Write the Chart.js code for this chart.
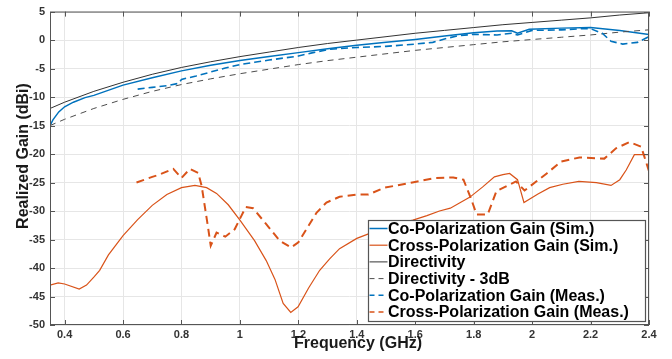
<!DOCTYPE html>
<html>
<head>
<meta charset="utf-8">
<script src="https://cdn.jsdelivr.net/npm/chart.js@4.4.1/dist/chart.umd.min.js"></script>
<style>
  html, body { margin: 0; padding: 0; background: #fff; }
  #wrap { width: 672px; height: 359px; }
</style>
</head>
<body>
<div id="wrap"><canvas id="c" width="672" height="359"></canvas></div>
<script>
const FONT = "'Liberation Sans', Arial, Helvetica, sans-serif";

// axis ticks
const xTicks = [0.4, 0.6, 0.8, 1.0, 1.2, 1.4, 1.6, 1.8, 2.0, 2.2, 2.4];
const yTicks = [-50, -45, -40, -35, -30, -25, -20, -15, -10, -5, 0, 5];

// Co-Polarization Gain (Sim.)
const coSimFreq = [0.35, 0.36, 0.38, 0.40, 0.43, 0.47, 0.50, 0.60, 0.70, 0.80, 0.90, 1.00, 1.10, 1.20, 1.30, 1.40, 1.50, 1.60, 1.70, 1.80, 1.88, 1.93, 1.95, 1.99, 2.10, 2.20, 2.30, 2.40];
const coSimGain = [-15.0, -14.0, -12.6, -11.7, -10.9, -10.1, -9.7, -7.9, -6.6, -5.4, -4.4, -3.6, -2.9, -2.2, -1.5, -0.9, -0.4, 0.1, 0.7, 1.3, 1.6, 1.65, 1.2, 1.9, 2.1, 2.2, 1.7, 1.0];

// Cross-Polarization Gain (Sim.)
const xSimFreq = [0.35, 0.378, 0.40, 0.45, 0.475, 0.50, 0.52, 0.55, 0.60, 0.65, 0.70, 0.75, 0.80, 0.846, 0.886, 0.92, 0.96, 1.00, 1.05, 1.09, 1.12, 1.148, 1.174, 1.199, 1.235, 1.273, 1.307, 1.341, 1.40, 1.44, 1.50, 1.55, 1.592, 1.64, 1.683, 1.72, 1.786, 1.83, 1.871, 1.90, 1.923, 1.95, 1.972, 2.02, 2.06, 2.105, 2.16, 2.22, 2.27, 2.30, 2.322, 2.35, 2.40];
const xSimGain = [-43.0, -42.6, -42.8, -43.7, -43.0, -41.6, -40.4, -37.7, -34.3, -31.5, -29.0, -27.1, -25.9, -25.5, -25.9, -26.9, -28.9, -31.6, -35.2, -38.7, -42.0, -46.2, -47.8, -46.8, -43.5, -40.4, -38.4, -36.6, -34.8, -34.0, -33.0, -32.2, -31.6, -30.8, -30.0, -29.5, -27.6, -25.8, -24.0, -23.6, -23.4, -24.5, -28.5, -27.0, -25.9, -25.3, -24.8, -25.0, -25.5, -24.5, -22.8, -20.1, -20.1];

// Directivity and Directivity - 3dB
const dirFreq = [0.35, 0.40, 0.50, 0.60, 0.70, 0.80, 0.90, 1.00, 1.10, 1.20, 1.30, 1.40, 1.50, 1.60, 1.70, 1.80, 1.90, 2.00, 2.10, 2.20, 2.30, 2.40];
const dirGain = [-12.0, -10.9, -9.0, -7.4, -6.0, -4.8, -3.8, -2.9, -2.1, -1.3, -0.6, 0.0, 0.6, 1.2, 1.7, 2.2, 2.7, 3.1, 3.5, 3.9, 4.4, 4.8];
const dir3Gain = [-15.0, -13.9, -12.0, -10.4, -9.0, -7.8, -6.8, -5.9, -5.1, -4.3, -3.6, -3.0, -2.4, -1.8, -1.3, -0.8, -0.3, 0.1, 0.5, 0.9, 1.4, 1.8];

// Co-Polarization Gain (Meas.)
const coMeasFreq = [0.65, 0.70, 0.75, 0.79, 0.80, 0.85, 0.90, 0.95, 1.00, 1.05, 1.10, 1.20, 1.25, 1.31, 1.40, 1.50, 1.60, 1.66, 1.70, 1.75, 1.80, 1.88, 1.93, 1.95, 2.00, 2.10, 2.17, 2.20, 2.24, 2.27, 2.31, 2.36, 2.40];
const coMeasGain = [-8.6, -8.3, -8.0, -7.6, -6.9, -6.3, -5.6, -4.9, -4.3, -3.9, -3.5, -2.8, -2.2, -1.6, -1.3, -1.1, -0.7, -0.4, 0.2, 0.8, 1.0, 0.9, 1.2, 0.9, 1.7, 1.8, 2.0, 2.0, 1.2, -0.2, -0.7, -0.4, 0.6];

// Cross-Polarization Gain (Meas.)
const xMeasFreq = [0.646, 0.70, 0.72, 0.772, 0.80, 0.829, 0.857, 0.869, 0.891, 0.90, 0.92, 0.95, 0.982, 1.02, 1.045, 1.09, 1.136, 1.175, 1.20, 1.262, 1.296, 1.341, 1.40, 1.44, 1.495, 1.59, 1.667, 1.73, 1.765, 1.79, 1.81, 1.848, 1.878, 1.945, 1.974, 2.05, 2.10, 2.162, 2.247, 2.287, 2.333, 2.373, 2.40];
const xMeasGain = [-25.0, -24.0, -23.7, -22.6, -24.2, -22.6, -23.3, -25.6, -32.9, -36.1, -33.8, -34.5, -33.2, -29.3, -29.5, -32.3, -35.2, -36.4, -35.5, -30.3, -28.5, -27.5, -27.1, -27.1, -25.9, -25.0, -24.2, -24.1, -24.5, -27.7, -30.6, -30.6, -26.5, -24.8, -26.4, -23.4, -21.3, -20.6, -20.8, -19.0, -17.9, -18.7, -23.0];

const pts = (fs, gs) => fs.map((f, i) => ({ x: f, y: gs[i] }));

const BLUE = '#0072BD', ORANGE = '#D95319', DARK = '#333333', GRAY = '#4d4d4d';

const datasets = [
  { label: 'Co-Polarization Gain (Sim.)', data: pts(coSimFreq, coSimGain), borderColor: BLUE, borderWidth: 1.5, order: 6 },
  { label: 'Cross-Polarization Gain (Sim.)', data: pts(xSimFreq, xSimGain), borderColor: ORANGE, borderWidth: 1.2, order: 5 },
  { label: 'Directivity', data: pts(dirFreq, dirGain), borderColor: DARK, borderWidth: 1, order: 4 },
  { label: 'Directivity - 3dB', data: pts(dirFreq, dir3Gain), borderColor: GRAY, borderWidth: 1, borderDash: [6, 5], order: 3 },
  { label: 'Co-Polarization Gain (Meas.)', data: pts(coMeasFreq, coMeasGain), borderColor: BLUE, borderWidth: 1.6, borderDash: [7, 4], order: 2 },
  { label: 'Cross-Polarization Gain (Meas.)', data: pts(xMeasFreq, xMeasGain), borderColor: ORANGE, borderWidth: 2, borderDash: [8, 5], order: 1 },
].map(d => ({ ...d, fill: false, pointRadius: 0, tension: 0, backgroundColor: d.borderColor }));

// frame, inward ticks, legend box and axis titles
const decorations = {
  id: 'decorations',
  afterDatasetsDraw(chart) {
    const { ctx, chartArea: a, scales: { x, y } } = chart;
    ctx.save();
    ctx.strokeStyle = '#555';
    ctx.lineWidth = 1;
    ctx.setLineDash([]);
    ctx.beginPath();
    xTicks.forEach(v => {
      const px = Math.round(x.getPixelForValue(v)) + 0.5;
      ctx.moveTo(px, a.bottom); ctx.lineTo(px, a.bottom - 5);
      ctx.moveTo(px, a.top); ctx.lineTo(px, a.top + 5);
    });
    yTicks.forEach(v => {
      const py = Math.round(y.getPixelForValue(v)) + 0.5;
      ctx.moveTo(a.left, py); ctx.lineTo(a.left + 5, py);
      ctx.moveTo(a.right, py); ctx.lineTo(a.right - 5, py);
    });
    ctx.stroke();
    ctx.strokeRect(a.left + 0.5, a.top + 0.5, a.width - 1, a.height - 1);

    // legend
    const lx = 368.5, ly = 220.5, lw = 277, lh = 101;
    ctx.fillStyle = '#fff';
    ctx.fillRect(lx, ly, lw, lh);
    ctx.strokeStyle = '#555';
    ctx.lineWidth = 1.2;
    ctx.strokeRect(lx, ly, lw, lh);
    ctx.font = 'bold 16px ' + FONT;
    ctx.textBaseline = 'middle';
    ctx.textAlign = 'left';
    chart.data.datasets.forEach((d, i) => {
      const ry = 228.5 + i * 16.7;
      ctx.strokeStyle = d.borderColor;
      ctx.lineWidth = Math.min(d.borderWidth, 1.5);
      ctx.setLineDash(d.borderDash ? [5, 4] : []);
      ctx.beginPath();
      ctx.moveTo(lx + 1, ry); ctx.lineTo(lx + 19, ry);
      ctx.stroke();
      ctx.setLineDash([]);
      ctx.fillStyle = '#000';
      ctx.fillText(d.label, lx + 19.5, ry + 1);
    });

    // axis titles
    ctx.fillStyle = '#1a1a1a';
    ctx.font = 'bold 16px ' + FONT;
    ctx.textAlign = 'center';
    ctx.textBaseline = 'middle';
    ctx.fillText('Frequency (GHz)', 358, 344);
    ctx.translate(24, 156);
    ctx.rotate(-Math.PI / 2);
    ctx.fillText('Realized Gain (dBi)', 0, 0);
    ctx.restore();
  }
};

new Chart(document.getElementById('c'), {
  type: 'line',
  data: { datasets },
  options: {
    responsive: false,
    animation: false,
    layout: { padding: { left: 0, right: 23, top: 9, bottom: 0 } },
    plugins: { legend: { display: false }, tooltip: { enabled: false } },
    scales: {
      x: {
        type: 'linear', min: 0.35, max: 2.4,
        afterBuildTicks: s => { s.ticks = xTicks.map(v => ({ value: v })); },
        afterFit: s => { s.height = 34; },
        grid: { color: '#e6e6e6', drawTicks: false },
        border: { display: false },
        ticks: {
          padding: 3, maxRotation: 0, autoSkip: false,
          color: '#333', font: { family: FONT, size: 11, weight: 'bold' },
          callback: v => String(+v.toFixed(1))
        }
      },
      y: {
        type: 'linear', min: -50, max: 5,
        afterBuildTicks: s => { s.ticks = yTicks.map(v => ({ value: v })); },
        afterFit: s => { s.width = 50; },
        grid: { color: '#e6e6e6', drawTicks: false },
        border: { display: false },
        ticks: {
          padding: 5, autoSkip: false,
          color: '#333', font: { family: FONT, size: 11, weight: 'bold' },
          callback: v => String(v)
        }
      }
    }
  },
  plugins: [decorations]
});
</script>
</body>
</html>
